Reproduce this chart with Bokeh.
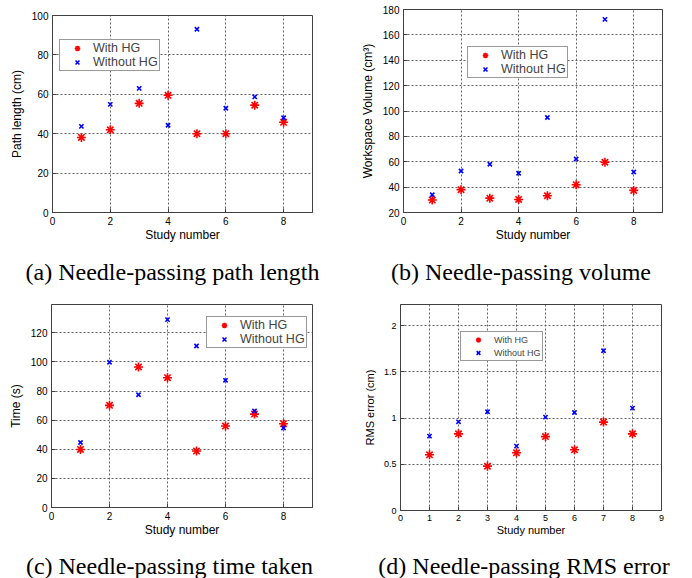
from bokeh.plotting import figure
from bokeh.layouts import column, row
from bokeh.models import Range1d, FixedTicker
from bokeh.core.properties import value
from bokeh.embed import file_html
from bokeh.resources import INLINE

# ---------------- data ----------------
study = [1, 2, 3, 4, 5, 6, 7, 8]

path_with = [38.1, 42.0, 55.4, 59.5, 40.0, 40.0, 54.5, 45.8]
path_without = [43.7, 54.9, 63.0, 44.3, 93.0, 52.9, 58.7, 48.1]

vol_with = [29.8, 38.0, 31.3, 30.3, 33.2, 41.9, 59.6, 37.4]
vol_without = [34.0, 52.7, 58.0, 50.9, 94.9, 62.2, 172.2, 51.9]

time_with = [39.9, 70.2, 96.6, 89.2, 38.8, 56.0, 64.2, 57.6]
time_without = [44.7, 99.8, 77.5, 129.1, 111.0, 87.4, 66.3, 54.6]

rms_with = [0.603, 0.830, 0.480, 0.625, 0.800, 0.657, 0.957, 0.830]
rms_without = [0.805, 0.960, 1.069, 0.697, 1.011, 1.061, 1.729, 1.108]

x_ticks_even = [0, 2, 4, 6, 8]
x_ticks_all = [0, 1, 2, 3, 4, 5, 6, 7, 8, 9]

series_labels = ["With HG", "Without HG"]
x_label = "Study number"
captions = ["(a) Needle-passing path length", "(b) Needle-passing volume",
            "(c) Needle-passing time taken", "(d) Needle-passing RMS error"]

SANS = "Liberation Sans"
SERIF = "Liberation Serif"
FRAME = "#404040"


def panel(W, H, borders, yr, yticks, ylabel, xticks, yw, yo, leg_loc,
          tick_fs="10px", lab_fs="12px", leg_fs="12.5px", leg_h=14,
          leg_sp=0, leg_pad=1, leg_gw=32, overrides=None):
    L, R, T, B = borders
    p = figure(width=W, height=H, output_backend="svg", toolbar_location=None,
               x_range=Range1d(0, 9), y_range=Range1d(*yr),
               min_border_left=L, min_border_right=R, min_border_top=T,
               min_border_bottom=B)
    p.frame_align = False
    p.outline_line_color = FRAME
    p.outline_line_width = 1
    p.xaxis.ticker = FixedTicker(ticks=xticks)
    p.yaxis.ticker = FixedTicker(ticks=yticks)
    if overrides:
        p.yaxis.major_label_overrides = overrides
    for ax in (p.xaxis, p.yaxis):
        ax.axis_line_color = FRAME
        ax.major_tick_line_color = FRAME
        ax.major_tick_in = 4
        ax.major_tick_out = 0
        ax.minor_tick_line_color = None
        ax.major_label_text_font = SANS
        ax.major_label_text_font_size = tick_fs
        ax.major_label_text_color = "black"
        ax.axis_label_text_font = SANS
        ax.axis_label_text_font_size = lab_fs
        ax.axis_label_text_font_style = "normal"
        ax.axis_label_text_color = "black"
        ax.major_label_standoff = 4
    p.xaxis.axis_label = x_label
    p.yaxis.axis_label = ylabel
    p.xaxis.axis_label_standoff = 0
    p.yaxis.axis_label_standoff = 5
    for g in (p.xgrid, p.ygrid):
        g.grid_line_color = "#555555"
        g.grid_line_dash = "2 2"
        g.grid_line_width = 1
        g.grid_line_alpha = 0.9

    p.scatter(study, yw, marker="asterisk", size=9, line_color="#ff0000",
              line_width=1.6, legend_label=series_labels[0])
    p.scatter(study, yo, marker="x", size=6, line_color="#0000ff",
              line_width=1.6, legend_label=series_labels[1])

    lg = p.legend[0]
    lg.location = leg_loc
    lg.margin = 0
    lg.padding = leg_pad
    lg.spacing = leg_sp
    lg.glyph_width = leg_gw
    lg.glyph_height = leg_h
    lg.label_height = leg_h
    lg.label_standoff = 0
    lg.label_text_font = SANS
    lg.label_text_font_size = leg_fs
    lg.border_line_color = "#333333"
    lg.border_line_width = 1
    lg.background_fill_alpha = 1
    return p


def caption_fig(W, H, text, cx, cy_from_top):
    c = figure(width=W, height=H, output_backend="svg", toolbar_location=None,
               x_range=Range1d(0, W), y_range=Range1d(0, H),
               x_axis_type=None, y_axis_type=None, min_border=0)
    c.frame_align = False
    c.outline_line_color = None
    c.text(x=[cx], y=[H - cy_from_top], text=[text], text_align="center",
           text_baseline="middle", text_font=value(SERIF),
           text_font_size=value("24px"), text_color="black")
    return c


pa = panel(346, 250, (52, 34, 15, 38), (0, 100), [0, 20, 40, 60, 80, 100],
           "Path length (cm)", x_ticks_even, path_with, path_without, (7, 141))
pb = panel(340, 250, (57, 24, 9, 38), (20, 180),
           [20, 40, 60, 80, 100, 120, 140, 160, 180],
           "Workspace Volume (cm³)", x_ticks_even, vol_with, vol_without,
           (64, 134))
pc = panel(346, 252, (51, 34, 14, 35), (0, 139.5),
           [0, 20, 40, 60, 80, 100, 120],
           "Time (s)", x_ticks_even, time_with, time_without, (155, 159))
pd = panel(340, 252, (54, 25, 14, 32), (0, 2.23), [0, 0.5, 1, 1.5, 2],
           "RMS error (cm)", x_ticks_all, rms_with, rms_without, (60, 149),
           tick_fs="9px", lab_fs="11px", leg_fs="9px", leg_h=13, leg_sp=0,
           leg_pad=1, leg_gw=32,
           overrides={0: "0", 0.5: "0.5", 1: "1", 1.5: "1.5", 2: "2"})

ca = caption_fig(346, 40, captions[0], 172, 21)
cb = caption_fig(340, 40, captions[1], 174.5, 21)
cc = caption_fig(346, 36, captions[2], 169, 23)
cd = caption_fig(340, 36, captions[3], 177.5, 23)

layout = column(row(pa, pb), row(ca, cb), row(pc, pd), row(cc, cd))

open("out.html", "w").write(file_html(layout, INLINE))
